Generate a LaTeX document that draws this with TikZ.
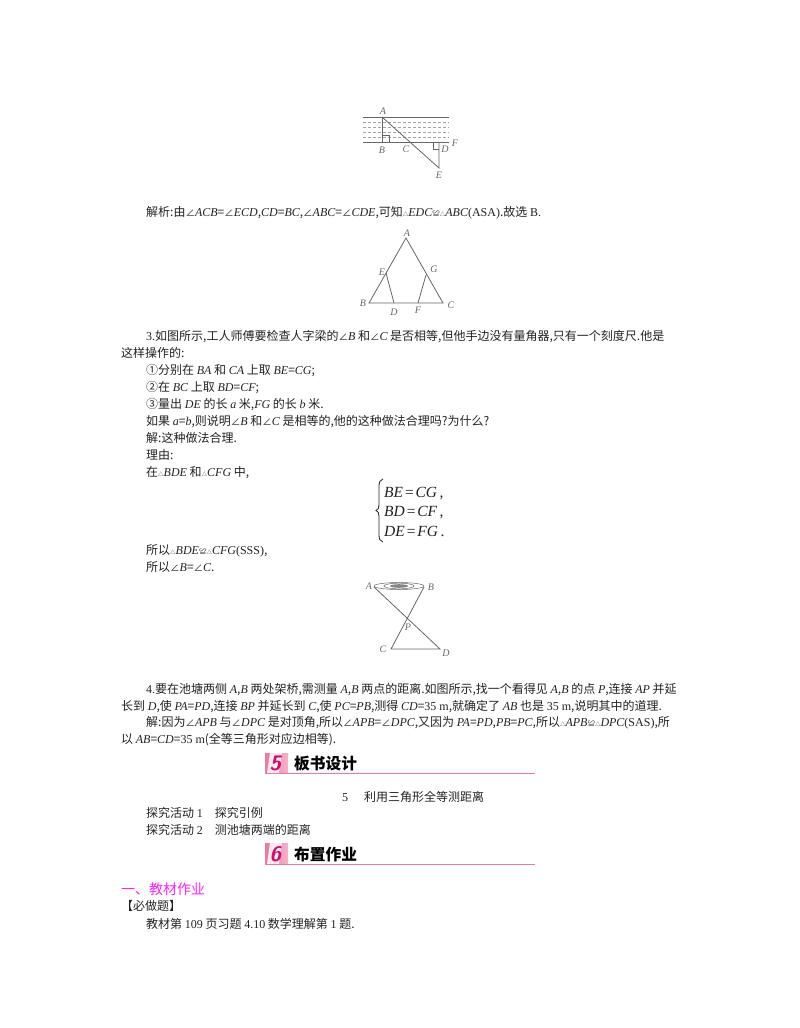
\documentclass[tikz,border=0pt]{standalone}
\usepackage{fontspec}
\setmainfont{Liberation Serif}
\newfontfamily\zhfont{Noto Sans CJK SC}
\newcommand{\ei}[1]{{\rmfamily\itshape #1}}
\newcommand{\ru}[1]{{\rmfamily #1}}
\newcommand{\tri}{{\fontsize{5.5}{6}\selectfont △}}
\newcommand{\qd}{{\fontsize{7.5}{8}\selectfont ≌}}
\newcommand{\ang}{{\fontsize{9.5}{10}\selectfont ∠}}
\usetikzlibrary{shadings}
\definecolor{inkc}{HTML}{222222}
\definecolor{figc}{HTML}{666666}
\definecolor{rosec}{HTML}{E8799F}
\definecolor{pinkc}{HTML}{F6B3CB}
\definecolor{numc}{HTML}{C8106E}
\definecolor{magc}{HTML}{FF22FF}
\tikzset{
  txt/.style={anchor=base west,inner sep=0pt,text=inkc,font=\fontsize{12}{15}\selectfont\zhfont},
  lab/.style={inner sep=0pt,text=figc,font=\fontsize{10}{10}\selectfont\itshape},
  fig/.style={draw=figc,line width=0.8pt},
  eqn/.style={anchor=base west,inner sep=0pt,text=inkc,font=\fontsize{15.5}{16}\selectfont\itshape},
  head/.style={anchor=base west,inner sep=0pt,text=black,font=\fontsize{15.7}{16}\selectfont\zhfont\bfseries},
  num/.style={inner sep=0pt,text=numc,font=\fontsize{21}{21}\selectfont\sffamily\bfseries\itshape}
}
\begin{document}
\begin{tikzpicture}[x=1pt,y=-1pt]
  \useasboundingbox (0,0) rectangle (800,1028);

  % Figure river
  \coordinate (rA) at (382,117);
  \coordinate (rB) at (382,142);
  \coordinate (rC) at (408,142);
  \coordinate (rD) at (439,142);
  \coordinate (rE) at (439,168);
  \draw[fig,line width=0.5pt] (363,117) -- (449,117);
  \draw[fig] (363,142) -- (449,142);
  \foreach \yy in {122,127,132,137}
    \draw[figc!60,line width=0.5pt,dash pattern=on 3pt off 2pt] (363,\yy) -- (449,\yy);
  \draw[fig] (rA) -- (rB);
  \draw[fig] (rA) -- (rE) -- (rD);
  \draw[fig,line width=0.5pt] (382,135) -- (389,135) -- (389,142);
  \draw[fig,line width=0.5pt] (433,142) -- (433,149) -- (439,149);
  \node[lab] (lrA) at (383,111) {A};
  \node[lab] (lrB) at (382,150) {B};
  \node[lab] (lrC) at (406,149) {C};
  \node[lab] (lrD) at (445,149) {D};
  \node[lab] (lrF) at (455,143) {F};
  \node[lab] (lrE) at (439,175) {E};

  \node[txt] (t1) at (146,216) {解析:由\ang\ei{ACB}=\ang\ei{ECD},\ei{CD}=\ei{BC},\ang\ei{ABC}=\ang\ei{CDE},可知\tri\ei{EDC}\qd\tri\ei{ABC}\ru{(ASA)}.故选 \ru{B.}};

  % Figure beam
  \coordinate (bA) at (406,238);
  \coordinate (bB) at (369,303);
  \coordinate (bC) at (443,303);
  \coordinate (bE) at (386,273);
  \coordinate (bG) at (426,275);
  \coordinate (bD) at (394,303);
  \coordinate (bF) at (418,303);
  \draw[fig] (bA) -- (bB) -- (bC) -- cycle;
  \draw[fig] (bE) -- (bD);
  \draw[fig] (bG) -- (bF);
  \node[lab] (lbA) at (407,233) {A};
  \node[lab] (lbB) at (363,303) {B};
  \node[lab] (lbC) at (451,305) {C};
  \node[lab] (lbE) at (382,272) {E};
  \node[lab] (lbG) at (434,269) {G};
  \node[lab] (lbD) at (394,312) {D};
  \node[lab] (lbF) at (418,310) {F};

  \node[txt] (t2) at (146,340) {\ru{3.}如图所示,工人师傅要检查人字梁的\ang\ei{B} 和\ang\ei{C} 是否相等,但他手边没有量角器,只有一个刻度尺.他是};
  \node[txt] (t3) at (121,357) {这样操作的:};
  \node[txt] (t4) at (146,374) {①分别在 \ei{BA} 和 \ei{CA} 上取 \ei{BE}=\ei{CG};};
  \node[txt] (t5) at (146,391) {②在 \ei{BC} 上取 \ei{BD}=\ei{CF};};
  \node[txt] (t6) at (146,408) {③量出 \ei{DE} 的长 \ei{a} 米,\ei{FG} 的长 \ei{b} 米.};
  \node[txt] (t7) at (146,425) {如果 \ei{a}=\ei{b},则说明\ang\ei{B} 和\ang\ei{C} 是相等的,他的这种做法合理吗?为什么?};
  \node[txt] (t8) at (146,442) {解:这种做法合理.};
  \node[txt] (t9) at (146,459) {理由:};
  \node[txt] (t10) at (146,476) {在\tri\ei{BDE} 和\tri\ei{CFG} 中,};

  % System of equations
  \draw[inkc,line width=0.8pt] (383,479) .. controls (380,480) and (379,482) .. (379,486)
    -- (379,505) .. controls (379,508) and (378,510) .. (376,510.5)
    .. controls (378,511) and (379,513) .. (379,516)
    -- (379,535) .. controls (379,539) and (380,541) .. (383,542);
  \node[eqn] (e1) at (384,497) {BE\hspace{1pt}=\hspace{1pt}CG\,\upshape ,};
  \node[eqn] (e2) at (384,516) {BD\hspace{1pt}=\hspace{1pt}CF\,\upshape ,};
  \node[eqn] (e3) at (384,536) {DE\hspace{1pt}=\hspace{1pt}FG\,\upshape .};

  \node[txt] (t11) at (146,554) {所以\tri\ei{BDE}\qd\tri\ei{CFG}\ru{(SSS)},};
  \node[txt] (t12) at (146,571) {所以\ang\ei{B}=\ang\ei{C}.};

  % Figure pond
  \coordinate (pA) at (374,587);
  \coordinate (pB) at (424,587);
  \coordinate (pC) at (391,649);
  \coordinate (pD) at (440,649);
  \draw[fig] (pA) -- (pD) -- (pC) -- (pB);
  \draw[fig,line width=0.5pt] (399,586) ellipse (25 and 3.5);
  \draw[fig,line width=0.5pt] (399,586) ellipse (15 and 2.8);
  \fill[figc!80] (399,586) ellipse (9 and 1.8);
  \node[lab] (lpA) at (369,586) {A};
  \node[lab] (lpB) at (431,587) {B};
  \node[lab] (lpP) at (408,627) {P};
  \node[lab] (lpC) at (383,649) {C};
  \node[lab] (lpD) at (446,653) {D};

  \node[txt] (t13) at (146,693) {\ru{4.}要在池塘两侧 \ei{A},\ei{B} 两处架桥,需测量 \ei{A},\ei{B} 两点的距离.如图所示,找一个看得见 \ei{A},\ei{B} 的点 \ei{P},连接 \ei{AP} 并延};
  \node[txt] (t14) at (121,710) {长到 \ei{D},使 \ei{PA}=\ei{PD},连接 \ei{BP} 并延长到 \ei{C},使 \ei{PC}=\ei{PB},测得 \ei{CD}=\ru{35 m},就确定了 \ei{AB} 也是 \ru{35 m},说明其中的道理.};
  \node[txt] (t15) at (146,726) {解:因为\ang\ei{APB} 与\ang\ei{DPC} 是对顶角,所以\ang\ei{APB}=\ang\ei{DPC},又因为 \ei{PA}=\ei{PD},\ei{PB}=\ei{PC},所以\tri\ei{APB}\qd\tri\ei{DPC}\ru{(SAS)},所};
  \node[txt] (t16) at (121,743) {以 \ei{AB}=\ei{CD}=\ru{35 m}(全等三角形对应边相等).};

  % Heading 5
  \shade[left color=rosec,right color=pinkc] (265,753) rectangle (288,773);
  \fill[white!70!pinkc] (270,753) -- (282,753) -- (279,773) -- (267,773) -- cycle;
  \draw[rosec,line width=0.8pt] (265,773.5) -- (535,773.5);
  \node[num] (n5) at (275.5,763) {5};
  \node[head] (h5) at (294,769) {板书设计};

  \node[txt] (t17) at (342,801) {\ru{5}\hspace{16pt}利用三角形全等测距离};
  \node[txt] (t18) at (146,817) {探究活动 \ru{1}\hspace{12pt}探究引例};
  \node[txt] (t19) at (146,834) {探究活动 \ru{2}\hspace{12pt}测池塘两端的距离};

  % Heading 6
  \shade[left color=rosec,right color=pinkc] (265,843) rectangle (288,864);
  \fill[white!70!pinkc] (270,843) -- (282,843) -- (279,864) -- (267,864) -- cycle;
  \draw[rosec,line width=0.8pt] (265,864.5) -- (535,864.5);
  \node[num] (n6) at (275.5,854) {6};
  \node[head] (h6) at (294,860) {布置作业};

  \node[txt,text=magc,font=\fontsize{14}{15}\selectfont\zhfont] (t20) at (121,894) {一、教材作业};
  \node[txt] (t21) at (121,910) {【必做题】};
  \node[txt] (t22) at (146,928) {教材第 \ru{109} 页习题 \ru{4.10} 数学理解第 \ru{1} 题.};
\end{tikzpicture}
\end{document}
